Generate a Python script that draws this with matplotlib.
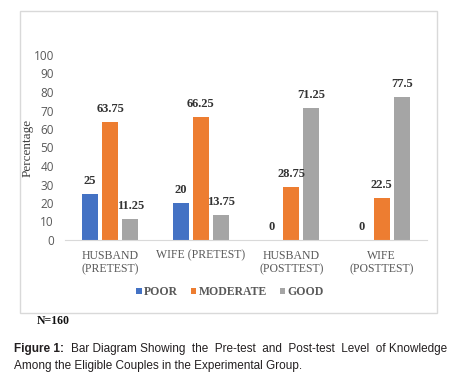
import matplotlib.pyplot as plt
import matplotlib.patches as mpatches
import numpy as np

categories = ["HUSBAND\n(PRETEST)", "WIFE (PRETEST)", "HUSBAND\n(POSTTEST)", "WIFE\n(POSTTEST)"]
poor = [25, 20, 0, 0]
moderate = [63.75, 66.25, 28.75, 22.5]
good = [11.25, 13.75, 71.25, 77.5]
series_names = ["POOR", "MODERATE", "GOOD"]
colors = ["#4472C4", "#ED7D31", "#A5A5A5"]

fig = plt.figure(figsize=(4.7, 3.84), dpi=100)
ax = fig.add_axes([65 / 470, 1 - 240 / 384, 362 / 470, 185 / 384])

x = np.arange(len(categories))
w = 16 / 90.5
step = 20 / 90.5
bars = []
for i, (vals, name) in enumerate(zip([poor, moderate, good], series_names)):
    b = ax.bar(x + (i - 1) * step, vals, width=w, color=colors[i], label=name)
    ax.bar_label(b, labels=[f"{v:g}" for v in vals], padding=5,
                 fontsize=9, fontweight="bold", family="Liberation Serif", color="#333333")
    bars.append(b)

ax.set_xlim(-0.5, 3.5)
ax.set_ylim(0, 100)
ax.set_yticks(range(0, 101, 10))
ax.set_xticks(x)
ax.set_xticklabels(categories, family="Liberation Serif", fontsize=8.5,
                   color="#595959", linespacing=1.15)
for lbl in ax.get_yticklabels():
    lbl.set_family("Open Sans")
    lbl.set_fontsize(8.5)
    lbl.set_color("#595959")
ax.tick_params(axis="both", length=0)
ax.tick_params(axis="x", pad=7)
ax.tick_params(axis="y", pad=8)
for s in ["top", "right", "left"]:
    ax.spines[s].set_visible(False)
ax.spines["bottom"].set_color("#D9D9D9")
ax.set_ylabel("Percentage", family="Liberation Serif", fontsize=9.5, color="#404040")
ax.yaxis.set_label_coords((34 - 65) / 362, 0.5)

fig.legend(handles=bars, labels=series_names, loc="center", bbox_to_anchor=(230 / 470, 1 - 292 / 384),
           ncol=3, frameon=False, handlelength=0.45, handleheight=0.45, handletextpad=0.2,
           columnspacing=1.1, prop={"family": "Liberation Serif", "weight": "bold", "size": 8.5},
           labelcolor="#595959")

# chart border
fig.patches.append(mpatches.Rectangle((20 / 470, 1 - 313 / 384), 417 / 470, 302 / 384,
                                      transform=fig.transFigure, fill=False,
                                      edgecolor="#D9D9D9", linewidth=1))

fig.text(37 / 470, 1 - 321 / 384, "N=160", family="Liberation Serif", fontweight="bold",
         fontsize=8.5, va="center", color="#111111")
fig.text(14 / 470, 1 - 349 / 384, "Figure 1:", family="Liberation Sans", fontweight="bold",
         fontsize=8.5, va="center", color="#231F20")
fig.text(71 / 470, 1 - 349 / 384,
         "Bar Diagram Showing  the  Pre-test  and  Post-test  Level  of Knowledge",
         family="Liberation Sans", fontsize=8.5, va="center", color="#231F20")
fig.text(14 / 470, 1 - 366 / 384,
         "Among the Eligible Couples in the Experimental Group.",
         family="Liberation Sans", fontsize=8.5, va="center", color="#231F20")

fig.savefig("out.png", dpi=100)
